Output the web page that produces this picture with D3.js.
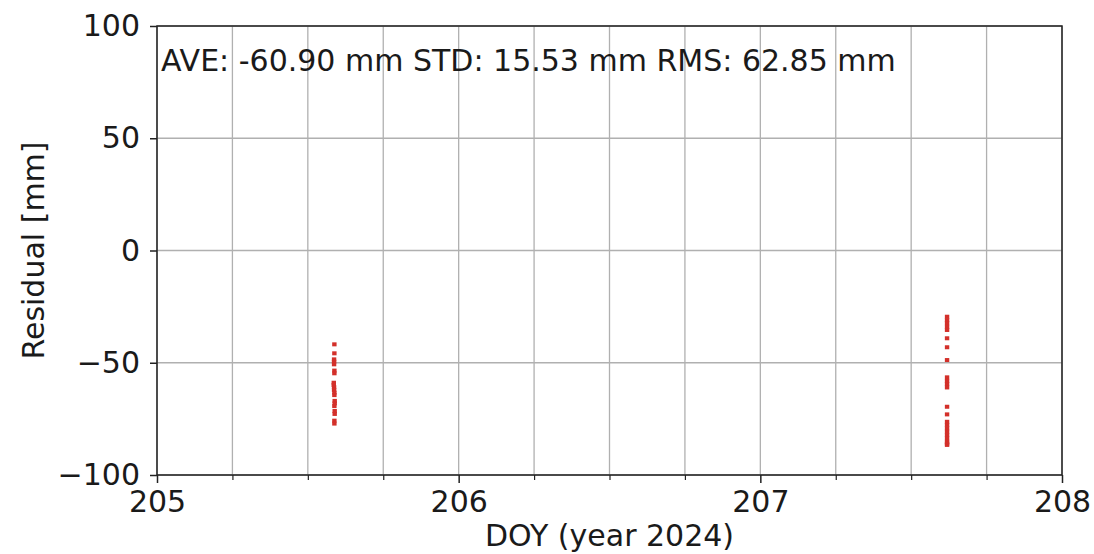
<!DOCTYPE html>
<html>
<head>
<meta charset="utf-8">
<script src="https://cdn.jsdelivr.net/npm/d3@7/dist/d3.min.js"></script>
<style>
  html, body { margin: 0; padding: 0; background: #fff; }
  svg { display: block; font-family: "DejaVu Sans", sans-serif; }
</style>
</head>
<body>
<svg id="chart" width="1094" height="554"></svg>
<script>
// Residuals by day of year
const doy = [
  205.588, 205.588, 205.587, 205.587, 205.587, 205.588, 205.588, 205.586, 205.586, 205.587,
  205.587, 205.588, 205.588, 205.589, 205.589, 205.588, 205.589, 205.589, 205.588, 205.588,
  207.619, 207.619, 207.619, 207.619, 207.619, 207.619, 207.619, 207.619, 207.619, 207.619,
  207.619, 207.619, 207.619, 207.619, 207.619, 207.619, 207.619, 207.619, 207.619, 207.619,
  207.619, 207.619, 207.619
];
const residual = [
  -41.8, -45.8, -48.5, -49.5, -50.7, -53.5, -54.7, -58.9, -59.9, -60.9,
  -62.1, -63.3, -64.4, -67.0, -68.1, -69.3, -71.5, -72.8, -75.8, -77.1,
  -29.5, -31.0, -32.4, -34.0, -35.4, -39.1, -43.1, -48.8, -56.5, -58.1,
  -59.5, -61.0, -69.6, -73.0, -76.3, -77.7, -79.2, -80.7, -82.2, -83.7,
  -85.2, -86.6, -86.0
];
const xTicks = [205, 206, 207, 208];
const xMinorTicks = [205.25, 205.5, 205.75, 206.25, 206.5, 206.75, 207.25, 207.5, 207.75];
const yTicks = [-100, -50, 0, 50, 100];
const statsText = "AVE: -60.90 mm STD: 15.53 mm RMS: 62.85 mm";
const xLabel = "DOY (year 2024)";
const yLabel = "Residual [mm]";

const svg = d3.select("#chart");
const W = 1094, H = 554;
const margin = { left: 157, right: W - 1062, top: 26, bottom: H - 475 };

const x = d3.scaleLinear().domain([205, 208]).range([margin.left, W - margin.right]);
const y = d3.scaleLinear().domain([-100, 100]).range([H - margin.bottom, margin.top]);

const fmt = d => d3.format("d")(d).replace("-", "\u2212");
const fontSize = 30;
const ink = "#1a1a1a";

// grid lines
const grid = svg.append("g").attr("stroke", "#b0b0b0").attr("stroke-width", 1.3);
grid.selectAll("line.vx").data(xTicks.concat(xMinorTicks)).join("line")
  .attr("x1", d => x(d)).attr("x2", d => x(d))
  .attr("y1", y(-100)).attr("y2", y(100));
grid.selectAll("line.hy").data(yTicks).join("line")
  .attr("x1", x(205)).attr("x2", x(208))
  .attr("y1", d => y(d)).attr("y2", d => y(d));

// data points
svg.append("g").attr("fill", "#d3302a")
  .selectAll("rect").data(doy.map((d, i) => [d, residual[i]])).join("rect")
  .attr("x", d => x(d[0]) - 2.2).attr("y", d => y(d[1]) - 2)
  .attr("width", 4.4).attr("height", 4);

// frame
svg.append("rect")
  .attr("x", x(205)).attr("y", y(100))
  .attr("width", x(208) - x(205)).attr("height", y(-100) - y(100))
  .attr("fill", "none").attr("stroke", "#222").attr("stroke-width", 1.5);

// x axis
const xAxis = d3.axisBottom(x).tickValues(xTicks).tickSize(8).tickPadding(8).tickFormat(fmt);
const gx = svg.append("g").attr("transform", `translate(0,${y(-100)})`).call(xAxis);
gx.select(".domain").remove();
gx.selectAll(".tick line").attr("stroke", "#222").attr("stroke-width", 1.5);
gx.selectAll(".tick text").attr("font-size", fontSize).attr("fill", ink)
  .attr("font-family", "DejaVu Sans");
const gxm = svg.append("g").attr("transform", `translate(0,${y(-100)})`)
  .call(d3.axisBottom(x).tickValues(xMinorTicks).tickSize(5).tickFormat(""));
gxm.select(".domain").remove();
gxm.selectAll(".tick line").attr("stroke", "#222").attr("stroke-width", 1.2);

// y axis
const yAxis = d3.axisLeft(y).tickValues(yTicks).tickSize(7).tickPadding(10).tickFormat(fmt);
const gy = svg.append("g").attr("transform", `translate(${x(205)},0)`).call(yAxis);
gy.select(".domain").remove();
gy.selectAll(".tick line").attr("stroke", "#222").attr("stroke-width", 1.5);
gy.selectAll(".tick text").attr("font-size", fontSize).attr("fill", ink)
  .attr("font-family", "DejaVu Sans");

// axis labels
svg.append("text")
  .attr("x", (x(205) + x(208)) / 2).attr("y", 546)
  .attr("text-anchor", "middle").attr("font-size", fontSize).attr("fill", ink)
  .text(xLabel);
svg.append("text")
  .attr("transform", `translate(44,${(y(-100) + y(100)) / 2}) rotate(-90)`)
  .attr("text-anchor", "middle").attr("font-size", fontSize).attr("fill", ink)
  .text(yLabel);

// statistics annotation
svg.append("text")
  .attr("x", 161).attr("y", 71)
  .attr("font-size", fontSize).attr("fill", ink)
  .text(statsText);
</script>
</body>
</html>
